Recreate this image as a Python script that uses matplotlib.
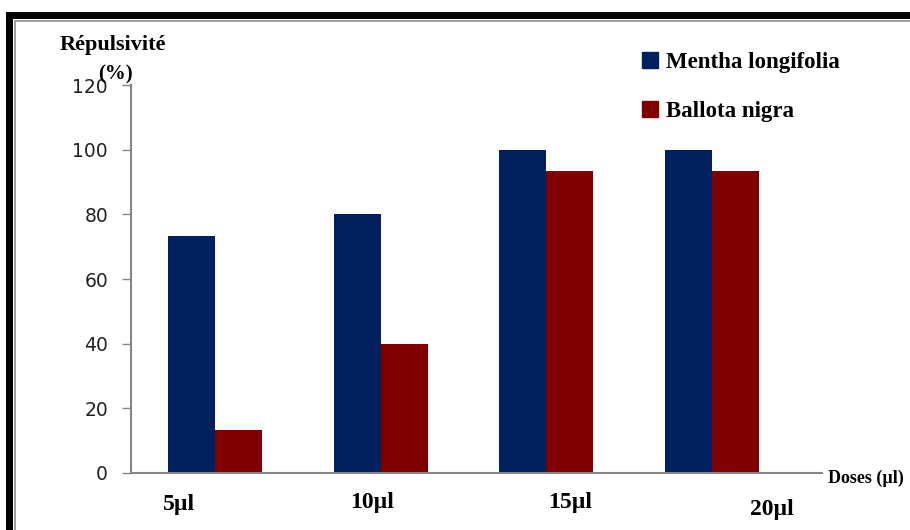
import matplotlib.pyplot as plt
from matplotlib.patches import Rectangle, Patch
import numpy as np

doses = ['5µl', '10µl', '15µl', '20µl']
mentha = [73.3, 80, 100, 100]
ballota = [13.3, 40, 93.3, 93.3]
series_names = ['Mentha longifolia', 'Ballota nigra']
yticks = [0, 20, 40, 60, 80, 100, 120]

blue = '#002060'
red = '#800000'
grey = '#868686'
serif = ['Liberation Serif', 'DejaVu Serif']

fig = plt.figure(figsize=(9.1, 5.3), dpi=100)
ax = fig.add_axes([131 / 910, 1 - 473 / 530, 691 / 910, 388 / 530])

x = np.arange(len(doses))
w = 0.284
ax.bar(x - w / 2, mentha, w, color=blue)
ax.bar(x + w / 2, ballota, w, color=red)

ax.set_xlim(-0.507, 3.663)
ax.set_ylim(0, 120)
ax.set_yticks(yticks)
ax.set_xticks([])
ax.tick_params(axis='y', length=6.5, width=1, color=grey, pad=10,
               labelsize=13.5, labelcolor='#222222')
for s in ['top', 'right']:
    ax.spines[s].set_visible(False)
for s in ['left', 'bottom']:
    ax.spines[s].set_color(grey)
    ax.spines[s].set_linewidth(1.5)

# category labels sit off-centre as in the original
trans = ax.get_xaxis_transform()
label_dx = [-0.22, -0.05, 0.14, 0.36]
label_y = [-0.082, -0.075, -0.075, -0.095]
for i, lab in enumerate(doses):
    ax.text(i + label_dx[i], label_y[i], lab, transform=trans, ha='center',
            va='center', fontsize=17, fontweight='bold', family=serif)

ax.text(1.009, -0.013, 'Doses (µl)', transform=ax.transAxes, ha='left',
        va='center', fontsize=13, fontweight='bold', family=serif)

fig.text(113 / 910, 1 - 45 / 530, 'Répulsivité', ha='center', va='center',
         fontsize=16, fontweight='bold', family=serif)
fig.text(115 / 910, 1 - 74 / 530, '(%)', ha='center', va='center',
         fontsize=15, fontweight='bold', family=serif)

handles = [Patch(color=blue), Patch(color=red)]
fig.legend(handles, series_names, loc='upper left',
           bbox_to_anchor=(621 / 910, 1 - 31 / 530), frameon=False,
           handlelength=0.7, handleheight=0.7, handletextpad=0.35,
           labelspacing=1.25, prop={'family': serif, 'weight': 'bold', 'size': 16.5})

# black frame on top and left edges
fig.add_artist(Rectangle((6 / 910, 0), 7 / 910, 1 - 12 / 530, transform=fig.transFigure,
                         color='black', lw=0))
fig.add_artist(Rectangle((6 / 910, 1 - 19 / 530), 1, 7 / 530, transform=fig.transFigure,
                         color='black', lw=0))
fig.add_artist(Rectangle((14 / 910, 0), 1.5 / 910, 1 - 20 / 530, transform=fig.transFigure,
                         color='#a0a0a0', lw=0))
fig.add_artist(Rectangle((14 / 910, 1 - 21.5 / 530), 1, 1.5 / 530, transform=fig.transFigure,
                         color='#a0a0a0', lw=0))

fig.savefig('out.png', dpi=100)
plt.close(fig)
